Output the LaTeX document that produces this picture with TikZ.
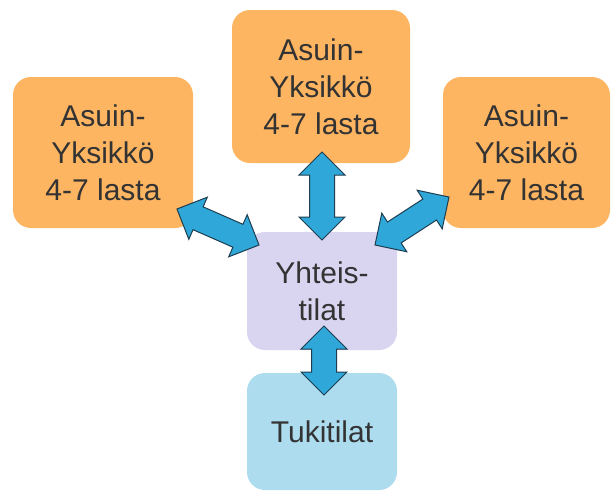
\documentclass[tikz,border=0pt]{standalone}
\usepackage{fontspec}
\setmainfont{Liberation Sans}
\usetikzlibrary{shapes.arrows,calc}
\definecolor{orng}{HTML}{FDB561}
\definecolor{lav}{HTML}{D9D4F0}
\definecolor{sky}{HTML}{ADDCEF}
\definecolor{txt}{HTML}{333333}
\definecolor{arrowblue}{HTML}{2FA8D9}
\definecolor{arrowedge}{HTML}{1E3D50}
\tikzset{
  box/.style={rounded corners=18pt, inner sep=0pt, align=center, text=txt,
    font=\fontsize{30}{37}\selectfont},
  unitbox/.style={box, fill=orng},
  barrow/.style={double arrow, double arrow tip angle=90,
    double arrow head extend=10.5pt, inner xsep=0pt, inner ysep=12pt,
    fill=arrowblue, draw=arrowedge, line width=1pt}
}
\newcommand\dblarrow[2]{%
  \path let \p1=(#1), \p2=(#2),
    \n1={atan2(\y2-\y1,\x2-\x1)}, \n2={veclen(\x2-\x1,\y2-\y1)} in
    node[barrow, rotate=\n1, minimum height=\n2] at ($(#1)!0.5!(#2)$) {};}
\begin{document}
\begin{tikzpicture}[x=1pt,y=-1pt]
\useasboundingbox (0,0) rectangle (611,491);
\node[unitbox, minimum width=180pt, minimum height=151pt] (left) at (103,152.5) {Asuin-\\Yksikkö\\4-7 lasta};
\node[unitbox, minimum width=178pt, minimum height=153pt] (top) at (321,86.5) {Asuin-\\Yksikkö\\4-7 lasta};
\node[unitbox, minimum width=167pt, minimum height=151pt] (right) at (526.5,152.5) {Asuin-\\Yksikkö\\4-7 lasta};
\node[box, fill=lav, minimum width=150pt, minimum height=118pt] (mid) at (322,291) {Yhteis-\\tilat};
\node[box, fill=sky, minimum width=150pt, minimum height=117pt] (tuki) at (322,431.5) {\raisebox{-3pt}{Tukitilat}};
\coordinate (t1) at (322,152);
\coordinate (t2) at (322,240);
\coordinate (b1) at (324,326);
\coordinate (b2) at (324,395);
\coordinate (l1) at (177,209);
\coordinate (l2) at (259,245);
\coordinate (r1) at (375,245);
\coordinate (r2) at (449,197);
\dblarrow{t1}{t2}
\dblarrow{b1}{b2}
\dblarrow{l1}{l2}
\dblarrow{r1}{r2}
\end{tikzpicture}
\end{document}
